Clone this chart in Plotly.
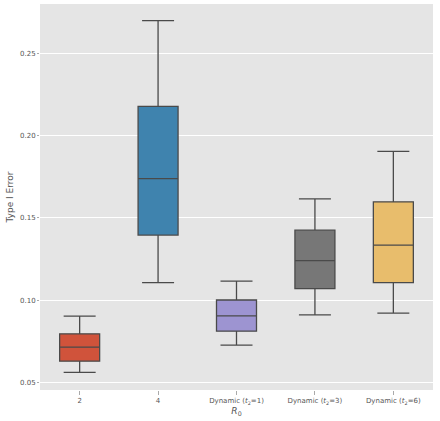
import plotly.graph_objects as go

categories = ["2", "4", "Dynamic (<i>t</i><sub>2</sub>=1)",
              "Dynamic (<i>t</i><sub>2</sub>=3)", "Dynamic (<i>t</i><sub>2</sub>=6)"]
lower = [0.0563, 0.1108, 0.0728, 0.0912, 0.0922]
q1 = [0.0631, 0.1396, 0.0813, 0.1071, 0.1108]
median = [0.0716, 0.1739, 0.0906, 0.1241, 0.1335]
q3 = [0.0797, 0.2177, 0.1002, 0.1426, 0.1598]
upper = [0.0904, 0.2697, 0.1116, 0.1616, 0.1904]
colors = ["#D0533B", "#3F83AE", "#9D94D1", "#777777", "#E8BD6C"]

fig = go.Figure()
for i, cat in enumerate(categories):
    fig.add_trace(go.Box(
        x=[cat], q1=[q1[i]], median=[median[i]], q3=[q3[i]],
        lowerfence=[lower[i]], upperfence=[upper[i]],
        fillcolor=colors[i], line=dict(color="#4a4a4a", width=1.3),
        width=0.51, whiskerwidth=0.8, showlegend=False, hoverinfo="skip",
    ))

fig.update_layout(
    width=440, height=421,
    margin=dict(l=40, r=7, t=4, b=31),
    paper_bgcolor="white", plot_bgcolor="#E5E5E5",
    font=dict(family="DejaVu Sans", size=7, color="#555555"),
    xaxis=dict(
        type="category", categoryorder="array", categoryarray=categories,
        showgrid=False, ticks="outside", ticklen=4, tickcolor="#aaaaaa",
        automargin=False,
        title=dict(text="<i>R</i><sub>0</sub>", font=dict(size=9, color="#555555"), standoff=1),
        tickfont=dict(size=7, color="#555555"),
    ),
    yaxis=dict(
        range=[0.0456, 0.2798], tickvals=[0.05, 0.10, 0.15, 0.20, 0.25],
        tickformat=".2f", gridcolor="white", gridwidth=1, zeroline=False,
        ticks="outside", ticklen=2, tickcolor="#aaaaaa", automargin=False,
        title=dict(text="Type I Error", font=dict(size=9, color="#555555"), standoff=4),
        tickfont=dict(size=7, color="#555555"),
    ),
)

# page body has a default 8px margin; drop it so the figure fills the window
fig.write_html("out.html", config={"displayModeBar": False},
               post_script="document.body.style.margin='0';")
